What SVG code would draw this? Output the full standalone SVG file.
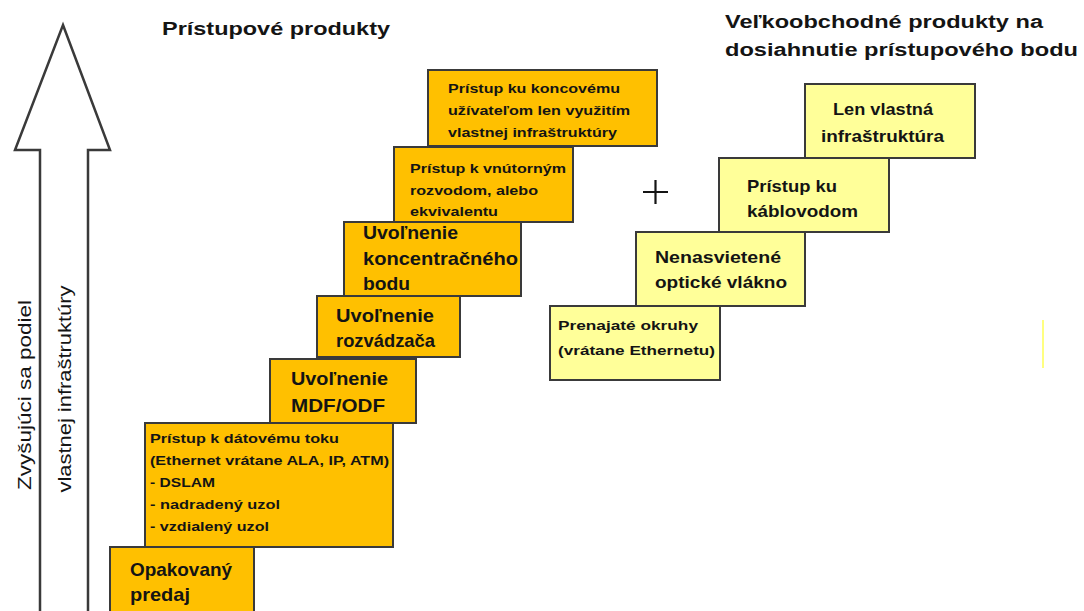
<svg xmlns="http://www.w3.org/2000/svg" width="1084" height="611" viewBox="0 0 1084 611">
<style>
.o{fill:#FFC000;stroke:#3a3a3a;stroke-width:2}
.y{fill:#FFFF99;stroke:#3a3a3a;stroke-width:2}
text{font-family:"Liberation Sans",Arial,sans-serif;fill:#141414}
.s{font-size:13.5px;font-weight:bold}
.m{font-size:18.5px;font-weight:bold}
.l{font-size:16.5px;font-weight:bold}
.t{font-size:18px;font-weight:bold}
.v{font-size:19px}
</style>
<rect width="1084" height="611" fill="#ffffff"/>
<g id="arrow">
<path d="M63,25 L110,150 L88,150 L88,615 L40,615 L40,150 L15,150 Z" fill="#ffffff" stroke="#3a3a3a" stroke-width="2.5" stroke-linejoin="miter"/>
<text class="v" transform="translate(31,395) rotate(-90)" text-anchor="middle" textLength="190" lengthAdjust="spacingAndGlyphs">Zvyšujúci sa podiel</text>
<text class="v" transform="translate(71,389) rotate(-90)" text-anchor="middle" textLength="207" lengthAdjust="spacingAndGlyphs">vlastnej infraštruktúry</text>
</g>
<g id="titles">
<text class="t" x="162" y="35" textLength="228" lengthAdjust="spacingAndGlyphs">Prístupové produkty</text>
<text class="t" x="725" y="28" textLength="318" lengthAdjust="spacingAndGlyphs">Veľkoobchodné produkty na</text>
<text class="t" x="725" y="56" textLength="353" lengthAdjust="spacingAndGlyphs">dosiahnutie prístupového bodu</text>
</g>
<g id="opakovany">
<rect class="o" x="110" y="547" width="144" height="70"/>
<text class="m" x="130" y="576" textLength="102" lengthAdjust="spacingAndGlyphs">Opakovaný</text>
<text class="m" x="130" y="601" textLength="60" lengthAdjust="spacingAndGlyphs">predaj</text>
</g>
<g id="datovy-tok">
<rect class="o" x="145" y="423" width="248" height="124"/>
<text class="s" x="150" y="443" textLength="189" lengthAdjust="spacingAndGlyphs">Prístup k dátovému toku</text>
<text class="s" x="150" y="465" textLength="239" lengthAdjust="spacingAndGlyphs">(Ethernet vrátane ALA, IP, ATM)</text>
<text class="s" x="150" y="487" textLength="65" lengthAdjust="spacingAndGlyphs">- DSLAM</text>
<text class="s" x="150" y="509" textLength="130" lengthAdjust="spacingAndGlyphs">- nadradený uzol</text>
<text class="s" x="150" y="531" textLength="119" lengthAdjust="spacingAndGlyphs">- vzdialený uzol</text>
</g>
<g id="mdf-odf">
<rect class="o" x="270" y="359" width="146" height="64"/>
<text class="m" x="291" y="385" textLength="97" lengthAdjust="spacingAndGlyphs">Uvoľnenie</text>
<text class="m" x="291" y="412" textLength="94" lengthAdjust="spacingAndGlyphs">MDF/ODF</text>
</g>
<g id="rozvadzac">
<rect class="o" x="317" y="296" width="143" height="61"/>
<text class="m" x="336" y="322" textLength="98" lengthAdjust="spacingAndGlyphs">Uvoľnenie</text>
<text class="m" x="336" y="347" textLength="99" lengthAdjust="spacingAndGlyphs">rozvádzača</text>
</g>
<g id="koncentracny-bod">
<rect class="o" x="344" y="222" width="177" height="74"/>
<text class="m" x="363" y="239" textLength="95" lengthAdjust="spacingAndGlyphs">Uvoľnenie</text>
<text class="m" x="363" y="265" textLength="155" lengthAdjust="spacingAndGlyphs">koncentračného</text>
<text class="m" x="363" y="290" textLength="47" lengthAdjust="spacingAndGlyphs">bodu</text>
</g>
<g id="vnutorne-rozvody">
<rect class="o" x="394" y="147" width="179" height="75"/>
<text class="s" x="410" y="173" textLength="156" lengthAdjust="spacingAndGlyphs">Prístup k vnútorným</text>
<text class="s" x="410" y="195" textLength="128" lengthAdjust="spacingAndGlyphs">rozvodom, alebo</text>
<text class="s" x="410" y="216" textLength="88" lengthAdjust="spacingAndGlyphs">ekvivalentu</text>
</g>
<g id="koncovy-uzivatel">
<rect class="o" x="428" y="70" width="229" height="76"/>
<text class="s" x="448" y="93" textLength="172" lengthAdjust="spacingAndGlyphs">Prístup ku koncovému</text>
<text class="s" x="448" y="115" textLength="182" lengthAdjust="spacingAndGlyphs">užívateľom len využitím</text>
<text class="s" x="448" y="137" textLength="169" lengthAdjust="spacingAndGlyphs">vlastnej infraštruktúry</text>
</g>
<g id="plus">
<path d="M643,192 H668 M655.5,180 V204" stroke="#141414" stroke-width="2.2" fill="none"/>
</g>
<g id="prenajate-okruhy">
<rect class="y" x="550" y="306" width="170" height="74"/>
<text class="s" x="558" y="330" font-size="14.5" textLength="140" lengthAdjust="spacingAndGlyphs">Prenajaté okruhy</text>
<text class="s" x="558" y="355" font-size="14.5" textLength="157" lengthAdjust="spacingAndGlyphs">(vrátane Ethernetu)</text>
</g>
<g id="nenasvietene-vlakno">
<rect class="y" x="636" y="232" width="169" height="74"/>
<text class="l" x="655" y="263" textLength="126" lengthAdjust="spacingAndGlyphs">Nenasvietené</text>
<text class="l" x="655" y="288" textLength="132" lengthAdjust="spacingAndGlyphs">optické vlákno</text>
</g>
<g id="kablovody">
<rect class="y" x="719" y="158" width="170" height="74"/>
<text class="l" x="747" y="192" textLength="90" lengthAdjust="spacingAndGlyphs">Prístup ku</text>
<text class="l" x="747" y="217" textLength="111" lengthAdjust="spacingAndGlyphs">káblovodom</text>
</g>
<g id="vlastna-infrastruktura">
<rect class="y" x="805" y="84" width="170" height="74"/>
<text class="l" x="833" y="115" textLength="100" lengthAdjust="spacingAndGlyphs">Len vlastná</text>
<text class="l" x="821" y="142" textLength="123" lengthAdjust="spacingAndGlyphs">infraštruktúra</text>
</g>
<g id="connectors"></g>
<line x1="1043" y1="320" x2="1043" y2="368" stroke="#FFFF80" stroke-width="2"/>
</svg>
